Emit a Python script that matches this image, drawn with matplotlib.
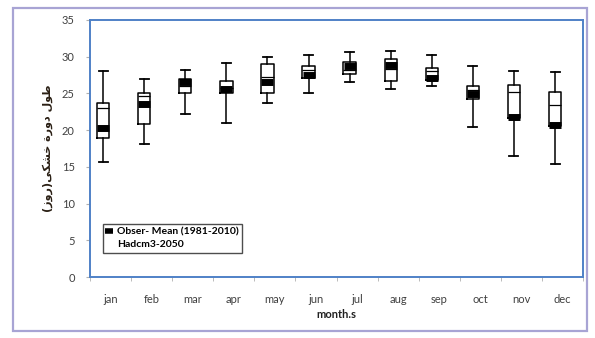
import matplotlib
matplotlib.use("Agg")
import matplotlib.pyplot as plt
from matplotlib.lines import Line2D
from matplotlib.patches import Rectangle

months = ["jan", "feb", "mar", "apr", "may", "jun", "jul", "aug", "sep", "oct", "nov", "dec"]
whis_lo = [15.6, 18.1, 22.2, 21.0, 23.7, 25.1, 26.5, 25.6, 26.0, 20.4, 16.5, 15.4]
q1 = [18.9, 20.8, 25.0, 25.0, 25.0, 27.1, 27.7, 26.7, 26.8, 24.3, 21.6, 20.5]
median = [23.0, 24.6, 26.0, 25.8, 27.3, 28.2, 28.2, 28.3, 28.0, 25.5, 25.2, 23.4]
q3 = [23.7, 25.1, 27.0, 26.7, 29.0, 28.8, 29.3, 29.7, 28.4, 26.0, 26.2, 25.2]
whis_hi = [28.1, 27.0, 28.2, 29.2, 30.0, 30.3, 30.7, 30.8, 30.3, 28.7, 28.1, 27.9]
obs_mean = [20.3, 23.6, 26.5, 25.6, 26.5, 27.5, 28.7, 28.9, 27.1, 24.9, 21.8, 20.7]

# Persian label "طول دورة خشکی(روز)" in presentation forms, visual order
ylabel = ("(\uFEAF\uFEED\uFEAD)" + "\uFEF0\uFEDC\uFEB8\uFEA7" + " "
          + "\uFE93\uFEAD\uFEED\uFEA9" + " " + "\uFEDD\uFEEE\uFEC3")

plt.rcParams.update({
    "font.family": ["Lato", "DejaVu Sans"],
    "font.size": 8,
})

INK = "#404040"
BLUE = "#4f81c7"
LAVENDER = "#a8a4d4"

fig = plt.figure(figsize=(5.95, 3.38), dpi=100)
ax = fig.add_axes([90 / 595, 61 / 338, 493 / 595, 257 / 338])

fig.patches.append(Rectangle((13 / 595, 7 / 338), 574 / 595, 323 / 338,
                             transform=fig.transFigure, fill=False,
                             edgecolor=LAVENDER, lw=1.6))

pos = [i - 0.18 for i in range(len(months))]
stats = [dict(whislo=a, q1=b, med=c, q3=d, whishi=e, fliers=[])
         for a, b, c, d, e in zip(whis_lo, q1, median, q3, whis_hi)]
ax.bxp(stats, positions=pos, widths=0.3, showfliers=False,
       boxprops=dict(color="black", lw=1.1),
       whiskerprops=dict(color="black", lw=1.1),
       capprops=dict(color="black", lw=1.3),
       medianprops=dict(color="black", lw=0.9),
       capwidths=0.22)
ax.plot(pos, obs_mean, ls="none", marker="_", ms=9, mew=5, color="black", zorder=4)

ax.set_xlim(-0.5, len(months) - 0.5)
ax.set_ylim(0, 35)
ax.set_yticks(range(0, 36, 5))
ax.set_xticks(range(len(months)))
ax.set_xticklabels(months)
ax.set_xticks([i + 0.5 for i in range(-1, len(months))], minor=True)
ax.tick_params(axis="x", which="major", length=0, pad=12, colors=INK)
ax.tick_params(axis="x", which="minor", length=3, color="#b0b0b0")
ax.tick_params(axis="y", length=3, color="#b0b0b0", colors=INK, pad=8)
for s in ax.spines.values():
    s.set_color(BLUE)
    s.set_linewidth(1.4)

ax.set_xlabel("month.s", fontweight="bold", color="#202020", labelpad=3)
ax.set_ylabel(ylabel, fontweight="bold", color="#2a1f14", family="DejaVu Sans",
              fontsize=8, labelpad=6)

handles = [Line2D([], [], ls="none", marker="_", ms=6, mew=4, color="black"),
           Line2D([], [], ls="none")]
leg = ax.legend(handles, ["Obser- Mean (1981-2010)", "Hadcm3-2050"],
                loc="lower left", bbox_to_anchor=(0.015, 0.075),
                frameon=True, fancybox=False, handlelength=0.6, handletextpad=0.4,
                borderpad=0.35, labelspacing=0.3, prop=dict(weight="bold", size=7.5))
leg.get_frame().set_edgecolor("#202020")
leg.get_frame().set_linewidth(1.0)

fig.savefig("out.png", dpi=100)
